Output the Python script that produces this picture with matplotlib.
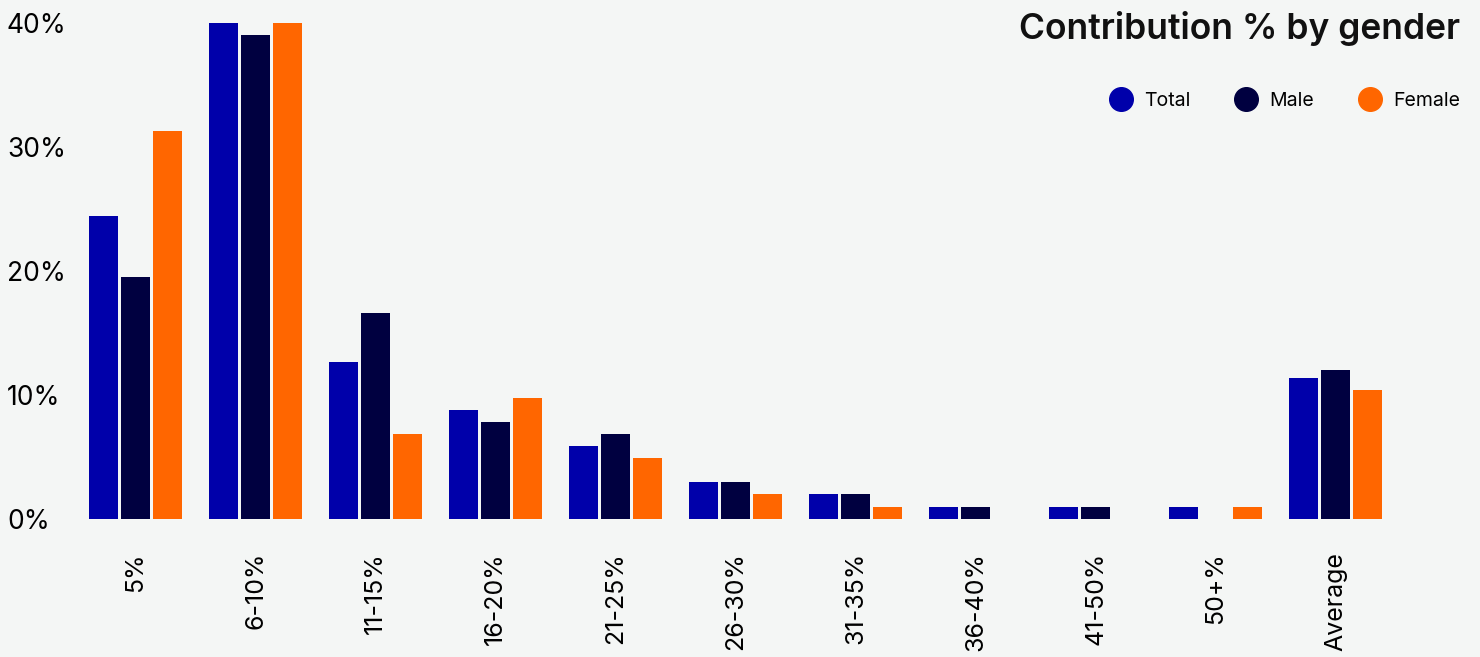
import matplotlib
matplotlib.use("Agg")
import matplotlib.pyplot as plt
from matplotlib.lines import Line2D
import numpy as np

categories = ["5%", "6-10%", "11-15%", "16-20%", "21-25%", "26-30%",
              "31-35%", "36-40%", "41-50%", "50+%", "Average"]
total = [24.4, 40.0, 12.7, 8.8, 5.9, 3.0, 2.0, 1.0, 1.0, 1.0, 11.4]
male = [19.5, 39.0, 16.6, 7.8, 6.85, 3.0, 2.0, 1.0, 1.0, 0.0, 12.0]
female = [31.3, 40.0, 6.85, 9.75, 4.9, 2.0, 1.0, 0.0, 0.0, 1.0, 10.4]
series_names = ["Total", "Male", "Female"]
colors = ["#0000AA", "#000040", "#FF6600"]
yticks = [0, 10, 20, 30, 40]
ytick_labels = ["0%", "10%", "20%", "30%", "40%"]
title = "Contribution % by gender"

bg = "#F4F6F5"
plt.rcParams['font.family'] = ['Inter', 'DejaVu Sans']

W, H = 1480, 657
fig = plt.figure(figsize=(W / 100, H / 100), dpi=100, facecolor=bg)
left_px, right_px, bottom_px, top_px = 70, 1470, 519, 23
ax = fig.add_axes([left_px / W, (H - bottom_px) / H,
                   (right_px - left_px) / W, (bottom_px - top_px) / H])
ax.set_facecolor(bg)

x = np.arange(len(categories))
bw = 29 / 120
step = 32 / 120
for i, (vals, name, c) in enumerate(zip([total, male, female], series_names, colors)):
    ax.bar(x + (i - 1) * step, vals, width=bw, color=c, label=name)

ax.set_xlim(-(135.5 - left_px) / 120, (right_px - 135.5) / 120)
ax.set_ylim(0, 40)
for s in ax.spines.values():
    s.set_visible(False)

ax.set_yticks(yticks)
ax.set_yticklabels(ytick_labels, fontsize=19, ha='left')
ax.tick_params(axis='y', length=0, pad=(left_px - 7) * 0.72)
ax.set_xticks(x)
ax.set_xticklabels(categories, rotation=90, fontsize=18, va='top', ha='center')
ax.tick_params(axis='x', length=0, pad=33 * 0.72)

fig.text(1460 / W, 1 - 28 / H, title, ha='right', va='center',
         fontsize=25.5, fontweight='semibold', color='#111111')

handles = [Line2D([], [], marker='o', linestyle='none', markersize=17,
                  markerfacecolor=c, markeredgecolor=c) for c in colors]
leg = fig.legend(handles, series_names, loc='center right',
                 bbox_to_anchor=(1468 / W, 1 - 101 / H), ncol=3,
                 frameon=False, fontsize=14, handlelength=1.2,
                 handletextpad=0.6, columnspacing=2.25, borderaxespad=0)

fig.savefig("out.png", dpi=100, facecolor=bg)
